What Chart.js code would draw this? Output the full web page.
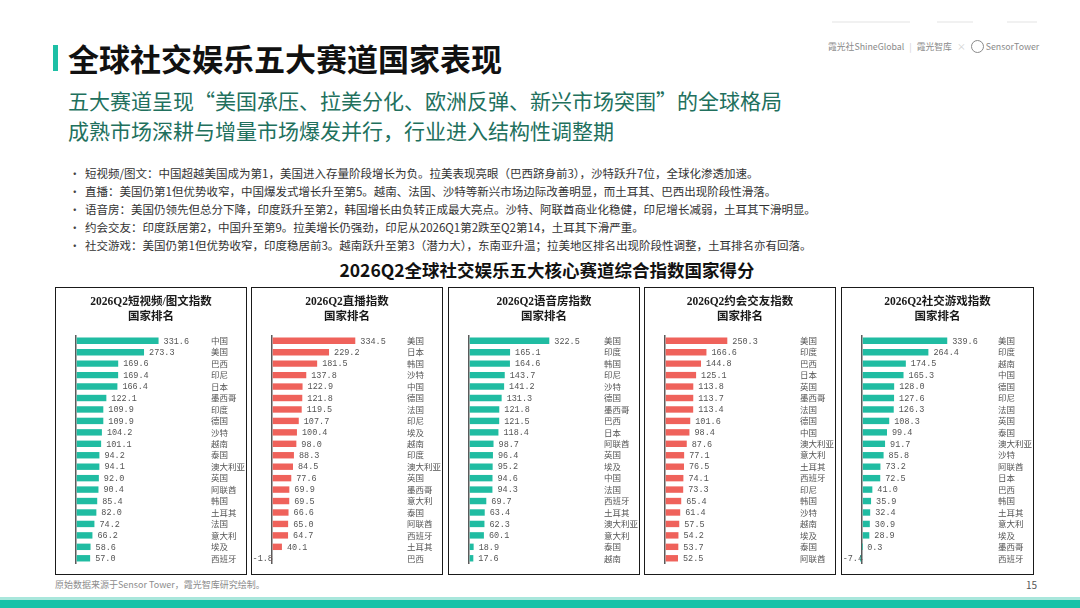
<!DOCTYPE html>
<html lang="zh-CN">
<head>
<meta charset="utf-8">
<script src="https://cdn.jsdelivr.net/npm/chart.js@4.4.1/dist/chart.umd.min.js"></script>
<style>
  html, body { margin: 0; padding: 0; }
  body { width: 1080px; height: 608px; position: relative; overflow: hidden; background: #fff;
         font-family: "Noto Sans CJK SC", "Noto Sans", sans-serif; }
  .abs { position: absolute; white-space: nowrap; }
  #titleBar { left: 53px; top: 45px; width: 5px; height: 26px; background: #1DBFA5; }
  #title { left: 68px; top: 39px; font-size: 31px; line-height: 38px; font-weight: 700; color: #111; }
  #subtitle { left: 68px; top: 85px; font-size: 21px; line-height: 30px; color: #21705d; }
  #bullets { left: 66px; top: 164px; font-size: 11.5px; line-height: 18px; color: #333; margin: 0; padding: 0; list-style: none; }
  #bullets li::before { content: "•"; display: inline-block; width: 19px; text-align: left; padding-left: 3px; box-sizing: border-box; color: #444; }
  #chartTitle { left: 0; width: 1094px; top: 258px; text-align: center; font-size: 17.5px; line-height: 24px; font-weight: 700; color: #111; }
  .panel { position: absolute; top: 287px; height: 288px; border: 1px solid #1a1a1a; box-sizing: border-box; background: #fff; }
  .panel canvas { display: block; }
  #logo { left: 828px; top: 40px; font-size: 8.8px; line-height: 14px; color: #8a8a8a; }
  #logo .sep { color: #cfcfcf; margin: 0 5px; }
  #logo .icon { display: inline-block; width: 11px; height: 11px; border: 1px solid #8a8a8a; border-radius: 50%; vertical-align: -3px; margin-right: 2px; }
  .faint { position: absolute; top: 21px; height: 2px; background: #f1f1f1; }
  #footer { left: 55px; top: 578px; font-size: 9px; line-height: 14px; color: #8c8c8c; }
  #pageNo { left: 1026px; top: 578px; font-size: 10px; line-height: 14px; color: #555; }
  #bottomLine { position: absolute; left: 0; top: 597px; width: 1080px; height: 3px; background: #a9e7dc; }
  #bottomBar { position: absolute; left: 0; top: 600px; width: 1080px; height: 8px; background: #17C2A8; }
</style>
</head>
<body>
<div class="faint" style="left:832px;width:78px"></div>
<div class="faint" style="left:937px;width:36px"></div>
<div class="faint" style="left:1007px;width:30px"></div>
<div class="abs" id="logo">霞光社ShineGlobal<span class="sep">|</span>霞光智库<span class="sep">×</span><span class="icon"></span>SensorTower</div>

<div class="abs" id="titleBar"></div>
<div class="abs" id="title">全球社交娱乐五大赛道国家表现</div>
<div class="abs" id="subtitle">五大赛道呈现“美国承压、拉美分化、欧洲反弹、新兴市场突围”的全球格局<br>成熟市场深耕与增量市场爆发并行，行业进入结构性调整期</div>

<ul class="abs" id="bullets">
  <li>短视频/图文：中国超越美国成为第1，美国进入存量阶段增长为负。拉美表现亮眼（巴西跻身前3），沙特跃升7位，全球化渗透加速。</li>
  <li>直播：美国仍第1但优势收窄，中国爆发式增长升至第5。越南、法国、沙特等新兴市场边际改善明显，而土耳其、巴西出现阶段性滑落。</li>
  <li>语音房：美国仍领先但总分下降，印度跃升至第2，韩国增长由负转正成最大亮点。沙特、阿联酋商业化稳健，印尼增长减弱，土耳其下滑明显。</li>
  <li>约会交友：印度跃居第2，中国升至第9。拉美增长仍强劲，印尼从2026Q1第2跌至Q2第14，土耳其下滑严重。</li>
  <li>社交游戏：美国仍第1但优势收窄，印度稳居前3。越南跃升至第3（潜力大），东南亚升温；拉美地区排名出现阶段性调整，土耳排名亦有回落。</li>
</ul>

<div class="abs" id="chartTitle">2026Q2全球社交娱乐五大核心赛道综合指数国家得分</div>

<div class="panel" style="left:55px;width:192px"><canvas id="c0" width="190" height="286"></canvas></div>
<div class="panel" style="left:251px;width:192px"><canvas id="c1" width="190" height="286"></canvas></div>
<div class="panel" style="left:448px;width:192px"><canvas id="c2" width="190" height="286"></canvas></div>
<div class="panel" style="left:644px;width:192px"><canvas id="c3" width="190" height="286"></canvas></div>
<div class="panel" style="left:841px;width:193px"><canvas id="c4" width="191" height="286"></canvas></div>

<div class="abs" id="footer">原始数据来源于Sensor Tower，霞光智库研究绘制。</div>
<div class="abs" id="pageNo">15</div>
<div id="bottomLine"></div>
<div id="bottomBar"></div>

<script>
// panel titles
const panelTitles = [
  "2026Q2短视频/图文指数",
  "2026Q2直播指数",
  "2026Q2语音房指数",
  "2026Q2约会交友指数",
  "2026Q2社交游戏指数",
];

// short video / image-text
const shortVideoCountries = ["中国", "美国", "巴西", "印尼", "日本", "墨西哥", "印度", "德国", "沙特", "越南",
  "泰国", "澳大利亚", "英国", "阿联酋", "韩国", "土耳其", "法国", "意大利", "埃及", "西班牙"];
const shortVideoScores = [331.6, 273.3, 169.6, 169.4, 166.4, 122.1, 109.9, 109.9, 104.2, 101.1,
  94.2, 94.1, 92.0, 90.4, 85.4, 82.0, 74.2, 66.2, 58.6, 57.0];

// live streaming
const liveCountries = ["美国", "日本", "韩国", "沙特", "中国", "德国", "法国", "印尼", "埃及", "越南",
  "印度", "澳大利亚", "英国", "墨西哥", "意大利", "泰国", "阿联酋", "西班牙", "土耳其", "巴西"];
const liveScores = [334.5, 229.2, 181.5, 137.8, 122.9, 121.8, 119.5, 107.7, 100.4, 98.0,
  88.3, 84.5, 77.6, 69.9, 69.5, 66.6, 65.0, 64.7, 40.1, -1.8];

// voice rooms
const voiceCountries = ["美国", "印度", "韩国", "印尼", "沙特", "德国", "墨西哥", "巴西", "日本", "阿联酋",
  "英国", "埃及", "中国", "法国", "西班牙", "土耳其", "澳大利亚", "意大利", "泰国", "越南"];
const voiceScores = [322.5, 165.1, 164.6, 143.7, 141.2, 131.3, 121.8, 121.5, 118.4, 98.7,
  96.4, 95.2, 94.6, 94.3, 69.7, 63.4, 62.3, 60.1, 18.9, 17.6];

// dating
const datingCountries = ["美国", "印度", "巴西", "日本", "英国", "墨西哥", "法国", "德国", "中国", "澳大利亚",
  "意大利", "土耳其", "西班牙", "印尼", "韩国", "沙特", "越南", "埃及", "泰国", "阿联酋"];
const datingScores = [250.3, 166.6, 144.8, 125.1, 113.8, 113.7, 113.4, 101.6, 98.4, 87.6,
  77.1, 76.5, 74.1, 73.3, 65.4, 61.4, 57.5, 54.2, 53.7, 52.5];

// social games
const gameCountries = ["美国", "印度", "越南", "中国", "德国", "印尼", "法国", "英国", "泰国", "澳大利亚",
  "沙特", "阿联酋", "日本", "巴西", "韩国", "土耳其", "意大利", "埃及", "墨西哥", "西班牙"];
const gameScores = [339.6, 264.4, 174.5, 165.3, 128.0, 127.6, 126.3, 108.3, 99.4, 91.7,
  85.8, 73.2, 72.5, 41.0, 35.9, 32.4, 30.9, 28.9, 0.3, -7.4];

const GREEN = "#20BCA2";
const RED = "#EF625B";

const valueLabels = {
  id: "valueLabels",
  afterDatasetsDraw(chart) {
    const ctx = chart.ctx;
    const meta = chart.getDatasetMeta(0);
    const data = chart.data.datasets[0].data;
    const x0 = chart.scales.x.getPixelForValue(0);
    ctx.save();
    ctx.font = '8.5px "Liberation Mono", "DejaVu Sans Mono", monospace';
    ctx.fillStyle = "#555";
    ctx.textBaseline = "middle";
    meta.data.forEach((bar, i) => {
      const v = data[i];
      const txt = v.toFixed(1);
      if (v >= 0) {
        ctx.textAlign = "left";
        ctx.fillText(txt, bar.x + 5, bar.y + 0.5);
      } else {
        ctx.textAlign = "right";
        ctx.fillText(txt, x0 + 1, bar.y + 0.5);
      }
    });
    ctx.restore();
  },
};

function drawPanel(id, title, countries, scores, color) {
  const ctx = document.getElementById(id).getContext("2d");
  new Chart(ctx, {
    type: "bar",
    data: {
      labels: countries,
      datasets: [{
        data: scores,
        backgroundColor: color,
        categoryPercentage: 1,
        barPercentage: 0.56,
      }],
    },
    options: {
      indexAxis: "y",
      responsive: false,
      animation: false,
      layout: { padding: { left: 0, right: 0, top: 0, bottom: 10 } },
      plugins: {
        legend: { display: false },
        tooltip: { enabled: false },
        title: {
          display: true,
          text: [title, "国家排名"],
          color: "#1a1a1a",
          font: { family: '"Liberation Serif", "Noto Sans CJK SC", serif', size: 11.5, weight: "bold", lineHeight: 1.35 },
          padding: { top: 6, bottom: 10 },
        },
      },
      scales: {
        x: {
          min: -80,
          max: 530,
          ticks: { display: false },
          border: { display: false },
          grid: {
            drawTicks: false,
            lineWidth: 1.5,
            color: (c) => (c.tick && c.tick.value === 0 ? "#5a5a5a" : "rgba(0,0,0,0)"),
          },
          afterBuildTicks: (s) => { s.ticks = [{ value: 0 }]; },
        },
        y: {
          position: "right",
          grid: { display: false, drawTicks: false },
          border: { display: false },
          ticks: {
            autoSkip: false,
            padding: 3,
            color: "#555",
            font: { family: '"Noto Sans CJK SC", sans-serif', size: 8.5 },
          },
          afterFit: (s) => { s.width = 38; },
        },
      },
    },
    plugins: [valueLabels],
  });
}

drawPanel("c0", panelTitles[0], shortVideoCountries, shortVideoScores, GREEN);
drawPanel("c1", panelTitles[1], liveCountries, liveScores, RED);
drawPanel("c2", panelTitles[2], voiceCountries, voiceScores, GREEN);
drawPanel("c3", panelTitles[3], datingCountries, datingScores, RED);
drawPanel("c4", panelTitles[4], gameCountries, gameScores, GREEN);
</script>
</body>
</html>
